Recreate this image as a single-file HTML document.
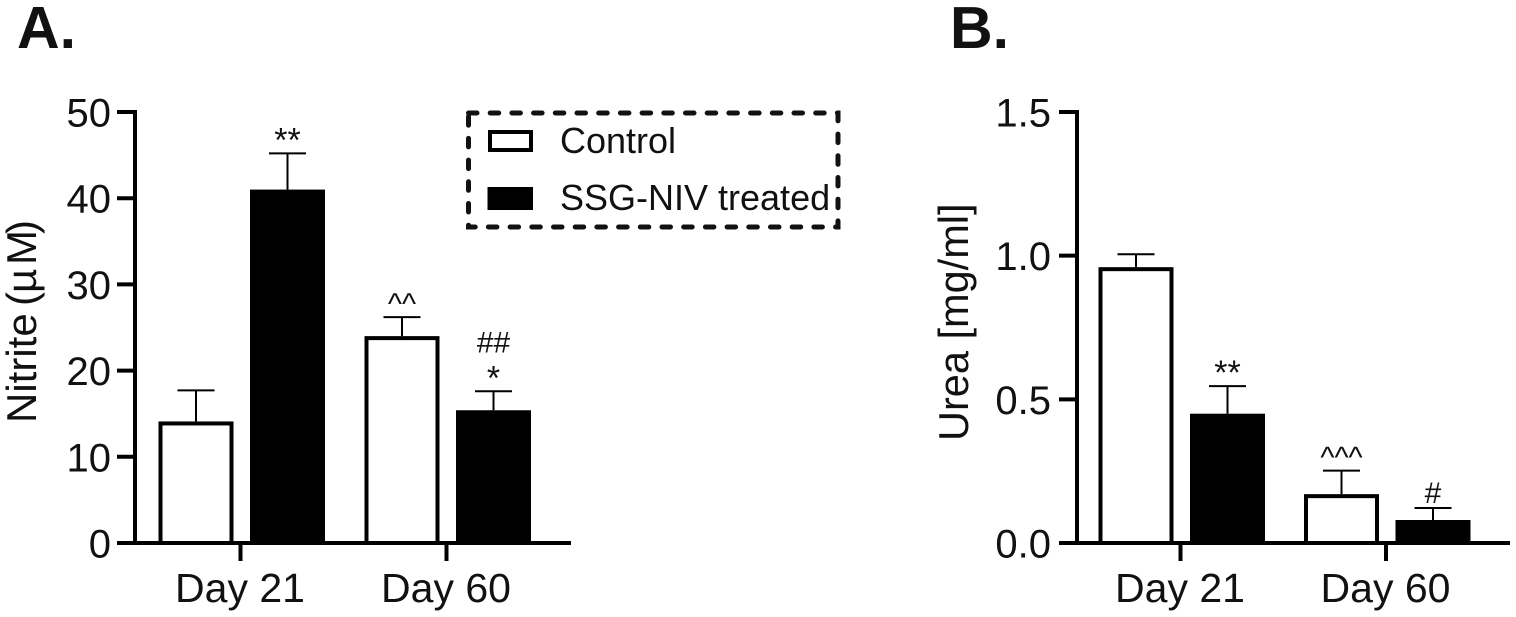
<!DOCTYPE html>
<html lang="en">
<head>
<meta charset="utf-8">
<title>Nitrite and Urea bar charts</title>
<style>
html,body{margin:0;padding:0;background:#fff;width:1516px;height:617px;overflow:hidden}
svg{display:block;font-family:"Liberation Sans",sans-serif}
text{fill:#111}
</style>
</head>
<body>
<svg id="chart" width="1516" height="617" viewBox="0 0 1516 617" xmlns="http://www.w3.org/2000/svg">
  <text x="17" y="48" font-size="59" font-weight="700">A.</text>
  <text x="950" y="48" font-size="59" font-weight="700">B.</text>
  <text transform="translate(36,423) rotate(-90)" font-size="42">Nitrite <tspan x="117">(</tspan><tspan x="130">µ</tspan><tspan x="158">M</tspan><tspan x="189">)</tspan></text>
  <text transform="translate(968,441) rotate(-90)" font-size="41.5">Urea [mg/ml]</text>
  <g>
    <rect x="468.5" y="113" width="369.5" height="114" fill="none" stroke="#111" stroke-width="5" stroke-linecap="round" stroke-dasharray="8.5 13.2"/>
    <rect x="490" y="132" width="41" height="18" fill="#fff" stroke="#000" stroke-width="4"/>
    <text x="560" y="153" font-size="36">Control</text>
    <rect x="487.5" y="187" width="45.5" height="23" fill="#000"/>
    <text x="560" y="210" font-size="36">SSG-NIV treated</text>
  </g>
</svg>
<script>
const groups = ['Day 21', 'Day 60'];
const seriesNames = ['control', 'treated'];
const nitriteTicks = [0, 10, 20, 30, 40, 50];
const nitriteTickLabels = ['0', '10', '20', '30', '40', '50'];
const nitriteControl = [14.1, 24.0];
const nitriteControlErr = [3.6, 2.2];
const nitriteTreated = [41.0, 15.4];
const nitriteTreatedErr = [4.2, 2.2];
const nitriteControlNotes = ['', '^^'];
const nitriteTreatedNotes = ['**', '##|*'];
const ureaTicks = [0, 0.5, 1.0, 1.5];
const ureaTickLabels = ['0.0', '0.5', '1.0', '1.5'];
const ureaControl = [0.96, 0.17];
const ureaControlErr = [0.045, 0.082];
const ureaTreated = [0.45, 0.08];
const ureaTreatedErr = [0.096, 0.042];
const ureaControlNotes = ['', '^^^'];
const ureaTreatedNotes = ['**', '#'];

const svg = document.getElementById('chart');
const NS = 'http://www.w3.org/2000/svg';
function add(tag, attrs, name, text) {
  const el = document.createElementNS(NS, tag);
  for (const k in attrs) el.setAttribute(k, attrs[k]);
  
  
  if (text !== undefined) el.textContent = text;
  svg.appendChild(el);
  return el;
}
function noteOffset(n) {
  const c = n.charAt(0);
  if (c === '^') return -3;
  if (c === '#') return -5;
  return -2;
}
function drawPanel(p) {
  const yOf = v => p.y0 - (v / p.yMax) * (p.y0 - p.yTop);
  const groupX = i => p.firstTick + i * p.tickStep;
  add('line', {x1: p.axisX, x2: p.axisX, y1: p.yTop - 2, y2: p.y0 + 2, stroke: '#000', 'stroke-width': 4}, p.id + '-y-axis');
  add('line', {x1: p.axisX - 18, x2: p.xEnd, y1: p.y0, y2: p.y0, stroke: '#000', 'stroke-width': 4}, p.id + '-x-axis');
  p.ticks.forEach((t, i) => {
    add('line', {x1: p.axisX - 18, x2: p.axisX, y1: yOf(t), y2: yOf(t), stroke: '#000', 'stroke-width': 4}, p.id + '-y-tick');
    add('text', {x: p.axisX - p.labelGap, y: yOf(t) + 14.5, 'text-anchor': 'end', 'font-size': 40}, p.id + '-y-tick-label', p.tickLabels[i]);
  });
  groups.forEach((g, i) => {
    const cx = groupX(i);
    add('line', {x1: cx, x2: cx, y1: p.y0, y2: 561, stroke: '#000', 'stroke-width': 4}, p.id + '-x-tick');
    add('text', {x: cx - 0.5, y: 602, 'text-anchor': 'middle', 'font-size': 41}, p.id + '-x-tick-label', g);
    seriesNames.forEach((s, si) => {
      const isCtl = si === 0;
      const val = isCtl ? p.control[i] : p.treated[i];
      const err = isCtl ? p.controlErr[i] : p.treatedErr[i];
      const note = isCtl ? p.controlNotes[i] : p.treatedNotes[i];
      const left = cx + (isCtl ? -82 : 9.5);
      const w = 75;
      const mid = left + w / 2;
      const top = yOf(val);
      const errTop = yOf(val + err);
      add('line', {x1: mid, x2: mid, y1: top, y2: errTop, stroke: '#000', 'stroke-width': 2}, p.id + '-error-bar-' + s);
      add('line', {x1: mid - 18.5, x2: mid + 18.5, y1: errTop, y2: errTop, stroke: '#000', 'stroke-width': 2}, p.id + '-error-cap-' + s);
      if (isCtl) {
        add('rect', {x: left + 2, y: top + 2, width: w - 4, height: p.y0 - top - 2, fill: '#fff', stroke: '#000', 'stroke-width': 4}, p.id + '-bar-control');
      } else {
        add('rect', {x: left, y: top, width: w, height: p.y0 - top + 2, fill: '#000'}, p.id + '-bar-treated');
      }
      note.split('|').filter(Boolean).reverse().forEach((n, k) => {
        const base = errTop + noteOffset(n) - k * 34;
        add('text', {x: mid, y: base, 'text-anchor': 'middle', 'font-size': n.charAt(0) === '*' ? 34 : 30}, p.id + '-significance-mark', n);
      });
    });
  });
}
drawPanel({id: 'nitrite', axisX: 135, xEnd: 571, y0: 543, yTop: 112, yMax: 50, firstTick: 240.5, tickStep: 206, labelGap: 24,
  ticks: nitriteTicks, tickLabels: nitriteTickLabels, control: nitriteControl, controlErr: nitriteControlErr,
  treated: nitriteTreated, treatedErr: nitriteTreatedErr, controlNotes: nitriteControlNotes, treatedNotes: nitriteTreatedNotes});
drawPanel({id: 'urea', axisX: 1077, xEnd: 1510, y0: 543, yTop: 112, yMax: 1.5, firstTick: 1180.5, tickStep: 205.5, labelGap: 26,
  ticks: ureaTicks, tickLabels: ureaTickLabels, control: ureaControl, controlErr: ureaControlErr,
  treated: ureaTreated, treatedErr: ureaTreatedErr, controlNotes: ureaControlNotes, treatedNotes: ureaTreatedNotes});
</script>
</body>
</html>
